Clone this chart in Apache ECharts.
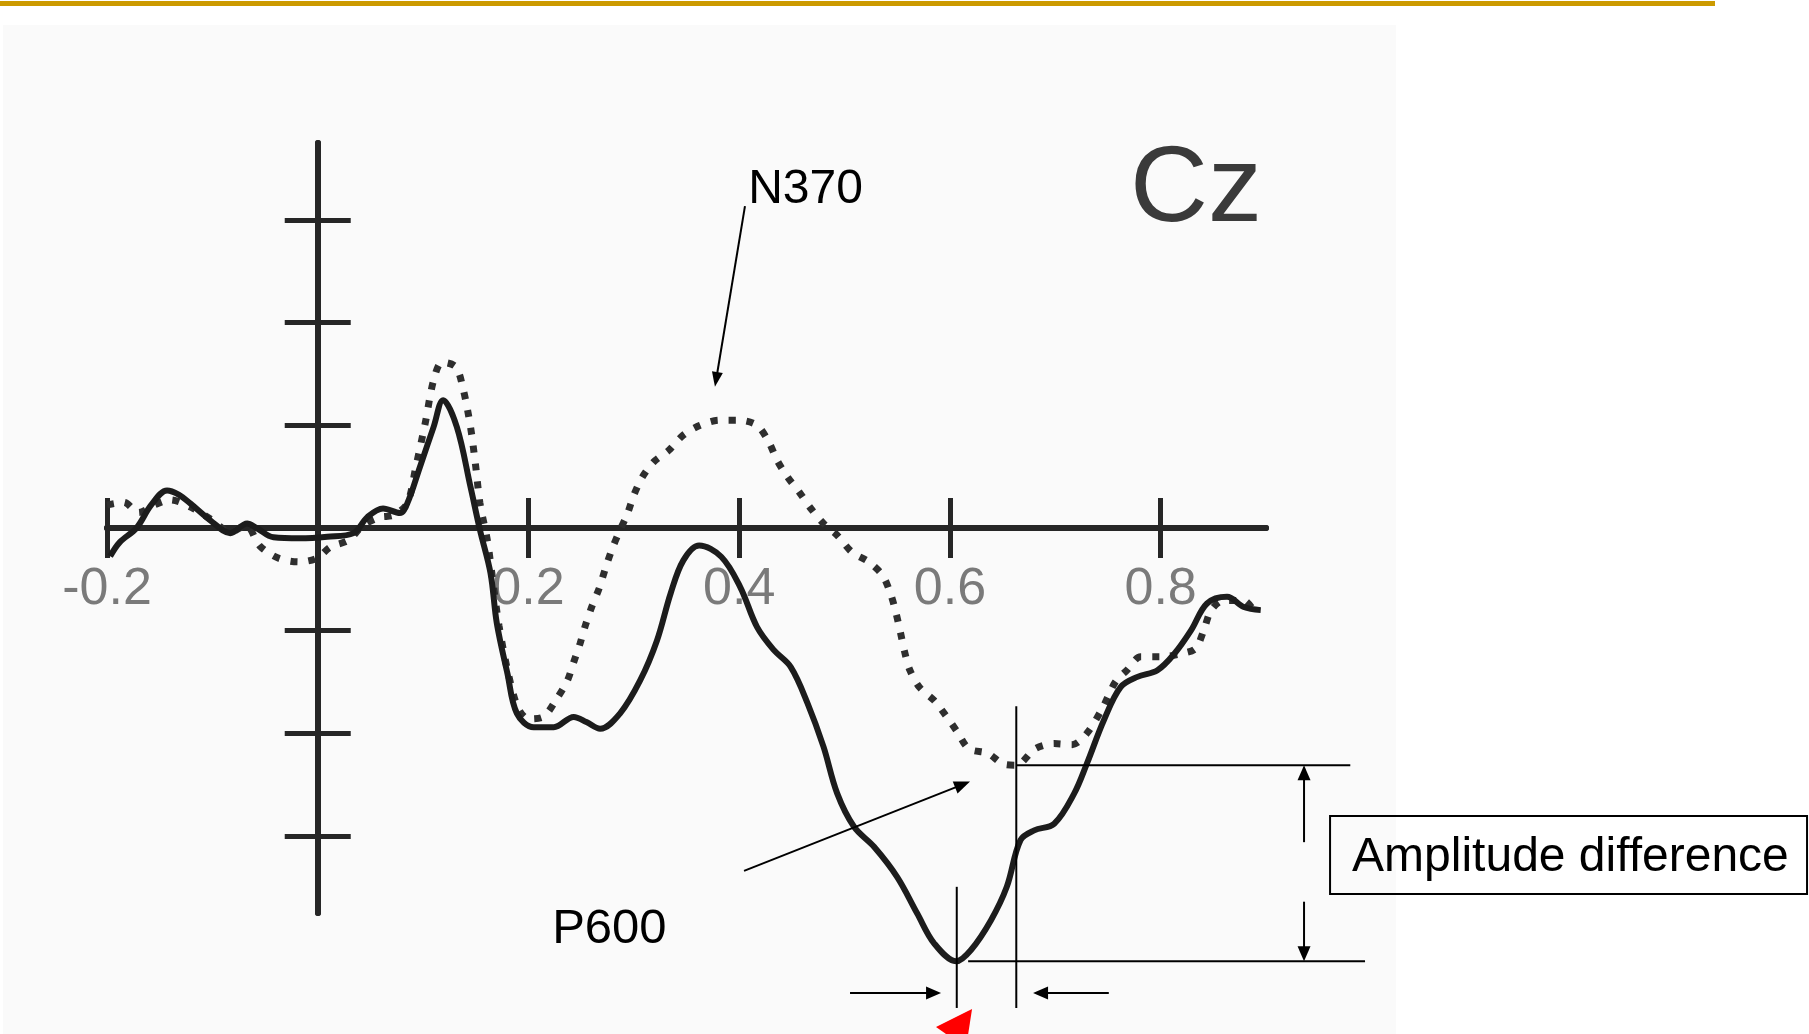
<!DOCTYPE html>
<html>
<head>
<meta charset="utf-8">
<script src="https://cdn.jsdelivr.net/npm/echarts@6/dist/echarts.min.js"></script>
<style>
  html, body { margin: 0; padding: 0; background: #ffffff; }
  #chart { width: 1809px; height: 1034px; }
</style>
</head>
<body>
<div id="chart"></div>
<script>
// ---- Data: ERP waveforms at Cz (time in s, amplitude in µV, negative up) ----
const xTickValues = [-0.2, 0.2, 0.4, 0.6, 0.8];
const yTickValues = [-6, -4, -2, 2, 4, 6];

const solidTime = [-0.197, -0.188, -0.172, -0.158, -0.143, -0.132, -0.121, -0.102, -0.083, -0.067,
  -0.058, -0.042, -0.017, 0.009, 0.034, 0.047, 0.062, 0.078, 0.085, 0.097,
  0.110, 0.119, 0.132, 0.145, 0.154, 0.164, 0.170, 0.180, 0.189, 0.205,
  0.224, 0.243, 0.255, 0.268, 0.287, 0.306, 0.322, 0.335, 0.347, 0.362,
  0.383, 0.401, 0.417, 0.433, 0.449, 0.465, 0.480, 0.493, 0.509, 0.528,
  0.550, 0.569, 0.585, 0.606, 0.620, 0.639, 0.654, 0.667, 0.680, 0.699,
  0.718, 0.730, 0.746, 0.762, 0.778, 0.797, 0.813, 0.829, 0.844, 0.863,
  0.879, 0.895];
const solidAmp = [0.55, 0.28, 0.00, -0.45, -0.73, -0.65, -0.48, -0.15, 0.10, -0.09,
  0.00, 0.18, 0.20, 0.17, 0.10, -0.21, -0.38, -0.29, -0.48, -1.19,
  -1.97, -2.49, -1.97, -0.80, 0.04, 0.88, 1.86, 2.83, 3.61, 3.88,
  3.88, 3.68, 3.78, 3.91, 3.61, 2.97, 2.19, 1.27, 0.63, 0.34,
  0.56, 1.15, 1.93, 2.38, 2.71, 3.42, 4.26, 5.17, 5.82, 6.21,
  6.80, 7.51, 8.09, 8.44, 8.22, 7.64, 6.99, 6.08, 5.89, 5.76,
  5.17, 4.59, 3.75, 3.10, 2.90, 2.77, 2.45, 1.99, 1.47, 1.34,
  1.54, 1.60];

const dottedTime = [-0.200, -0.184, -0.170, -0.155, -0.140, -0.120, -0.100, -0.083, -0.068, -0.055,
  -0.037, -0.018, -0.001, 0.012, 0.029, 0.043, 0.059, 0.072, 0.085, 0.093,
  0.102, 0.110, 0.118, 0.131, 0.138, 0.145, 0.150, 0.154, 0.161, 0.166,
  0.172, 0.181, 0.190, 0.200, 0.214, 0.227, 0.237, 0.243, 0.249, 0.254,
  0.260, 0.267, 0.273, 0.279, 0.286, 0.294, 0.300, 0.308, 0.319, 0.333,
  0.347, 0.363, 0.381, 0.400, 0.417, 0.428, 0.436, 0.446, 0.457, 0.468,
  0.480, 0.493, 0.507, 0.523, 0.536, 0.544, 0.549, 0.553, 0.557, 0.562,
  0.571, 0.585, 0.596, 0.607, 0.618, 0.636, 0.651, 0.663, 0.681, 0.699,
  0.716, 0.730, 0.745, 0.757, 0.768, 0.781, 0.800, 0.819, 0.833, 0.841,
  0.848, 0.860, 0.879, 0.888];
const dottedAmp = [-0.45, -0.50, -0.30, -0.45, -0.55, -0.40, -0.15, 0.08, -0.05, 0.35,
  0.59, 0.66, 0.59, 0.37, 0.24, -0.05, -0.21, -0.25, -0.48, -1.18,
  -2.04, -2.88, -3.23, -3.14, -2.71, -1.97, -1.19, -0.48, 0.24, 1.00,
  1.90, 2.85, 3.50, 3.72, 3.68, 3.32, 2.97, 2.61, 2.25, 1.90,
  1.54, 1.18, 0.79, 0.43, 0.08, -0.28, -0.64, -0.99, -1.29, -1.51,
  -1.81, -2.00, -2.10, -2.10, -2.00, -1.68, -1.32, -0.99, -0.70, -0.38,
  -0.09, 0.14, 0.47, 0.66, 0.92, 1.30, 1.67, 2.03, 2.41, 2.77,
  3.10, 3.36, 3.65, 3.97, 4.30, 4.39, 4.60, 4.62, 4.30, 4.20,
  4.22, 4.00, 3.50, 3.00, 2.77, 2.51, 2.51, 2.45, 2.35, 1.99,
  1.60, 1.41, 1.41, 1.60];

// Peak points compared by the amplitude bracket: [latency s, amplitude µV]
const solidPeak = [0.6065, 8.44];
const dottedPeak = [0.663, 4.62];

const pairs = (ts, vs) => ts.map((t, i) => [t, vs[i]]);

const FONT = '"Liberation Sans", Arial, Helvetica, sans-serif';
const INK = '#262626';

const chart = echarts.init(document.getElementById('chart'), null, { renderer: 'canvas' });

// The time axis crosses the amplitude axis at 0 µV, half-way up the grid.
const GRID = { left: 107, top: 143, width: 1159, height: 770 };
const X_AXIS_SHIFT = -GRID.height / 2;

function xAxisDef(inside, withLabels) {
  return {
    type: 'value', position: 'bottom', min: -0.2, max: 0.9, offset: X_AXIS_SHIFT,
    axisLine: { show: true, onZero: false, lineStyle: { color: INK, width: 6 } },
    axisTick: { show: true, customValues: xTickValues, inside: inside, length: 30,
      lineStyle: { color: INK, width: 5 } },
    axisLabel: withLabels ? {
      show: true, customValues: xTickValues, margin: 36,
      color: '#7a7a7a', fontSize: 52, fontFamily: FONT
    } : { show: false },
    splitLine: { show: false }
  };
}
function yAxisDef(inside) {
  return {
    type: 'value', position: 'left', inverse: true, min: -7.5, max: 7.5,
    axisLine: { show: true, onZero: true, lineStyle: { color: INK, width: 6 } },
    axisTick: { show: true, customValues: yTickValues, inside: inside, length: 33,
      lineStyle: { color: INK, width: 5 } },
    axisLabel: { show: false },
    splitLine: { show: false }
  };
}

chart.setOption({
  animation: false,
  backgroundColor: '#ffffff',
  grid: Object.assign({ containLabel: false }, GRID),
  xAxis: [xAxisDef(false, true), xAxisDef(true, false)],
  yAxis: [yAxisDef(false), yAxisDef(true)],
  series: [
    {
      name: 'dotted', type: 'line', xAxisIndex: 0, yAxisIndex: 0,
      data: pairs(dottedTime, dottedAmp), symbol: 'none', smooth: 0.3, clip: false, z: 3,
      lineStyle: { color: '#2e2e2e', width: 7, type: [7, 11], cap: 'butt' }
    },
    {
      name: 'solid', type: 'line', xAxisIndex: 0, yAxisIndex: 0,
      data: pairs(solidTime, solidAmp), symbol: 'none', smooth: 0.35, clip: false, z: 4,
      lineStyle: { color: '#1c1c1c', width: 6 }
    }
  ]
});

// ---- Annotations, anchored in data coordinates ----
const px = (p) => chart.convertToPixel({ seriesIndex: 1 }, p);

function seg(a, b, width) {
  const A = px(a), B = px(b);
  return { type: 'line', z: 20, shape: { x1: A[0], y1: A[1], x2: B[0], y2: B[1] },
    style: { stroke: '#000', lineWidth: width || 2 } };
}
function arrow(from, to, len, w) {
  const A = px(from), B = px(to);
  const dx = B[0] - A[0], dy = B[1] - A[1];
  const d = Math.hypot(dx, dy), ux = dx / d, uy = dy / d;
  const bx = B[0] - ux * len, by = B[1] - uy * len;
  const nx = -uy * w / 2, ny = ux * w / 2;
  return [
    { type: 'line', z: 20, shape: { x1: A[0], y1: A[1], x2: bx + ux, y2: by + uy },
      style: { stroke: '#000', lineWidth: 2 } },
    { type: 'polygon', z: 20, shape: { points: [[B[0], B[1]], [bx + nx, by + ny], [bx - nx, by - ny]] },
      style: { fill: '#000' } }
  ];
}
function label(text, at, size, color) {
  const P = px(at);
  return { type: 'text', z: 20, x: P[0], y: P[1],
    style: { text: text, fontSize: size, fontFamily: FONT, fill: color, align: 'left', verticalAlign: 'middle' } };
}

const boxA = px([0.9608, 5.61]), boxB = px([1.4135, 7.13]);
const tri = [[0.621, 9.37], [0.5868, 9.72], [0.6153, 10.13]].map(px);

const graphics = [
  // slide rule and figure panel
  { type: 'rect', z: -10, silent: true, shape: { x: 0, y: 1, width: 1715, height: 5 }, style: { fill: '#CC9A00' } },
  { type: 'rect', z: -10, silent: true, shape: { x: 3, y: 25, width: 1393, height: 1009 }, style: { fill: '#fafafa' } },

  label('Cz', [0.771, -6.57], 108, '#3a3a3a'),
  label('N370', [0.4085, -6.58], 48, '#000'),
  label('P600', [0.2225, 7.83], 49, '#000'),
  label('Amplitude difference', [0.9817, 6.43], 48, '#000'),
  { type: 'rect', z: 20, shape: { x: boxA[0], y: boxA[1], width: boxB[0] - boxA[0], height: boxB[1] - boxA[1] },
    style: { fill: 'none', stroke: '#000', lineWidth: 2 } },

  ...arrow([0.4055, -6.27], [0.377, -2.75], 15, 11),
  ...arrow([0.4046, 6.68], [0.6191, 4.94], 16, 13),

  // latency markers
  seg([solidPeak[0], 6.99], [solidPeak[0], 9.35]),
  seg([dottedPeak[0], 3.47], [dottedPeak[0], 9.35]),
  // amplitude levels
  seg([dottedPeak[0], dottedPeak[1]], [0.98, dottedPeak[1]]),
  seg([0.6173, solidPeak[1]], [0.994, solidPeak[1]]),
  // latency arrows
  ...arrow([0.5052, 9.06], [0.5916, 9.06], 15, 13),
  ...arrow([0.7508, 9.06], [0.6789, 9.06], 15, 13),
  // amplitude arrows
  ...arrow([0.9361, 6.12], [0.9361, dottedPeak[1]], 15, 13),
  ...arrow([0.9361, 7.28], [0.9361, solidPeak[1]], 15, 13),

  { type: 'polygon', z: 20, shape: { points: tri }, style: { fill: '#ff0000' } }
];

chart.setOption({ graphic: graphics });
</script>
</body>
</html>
